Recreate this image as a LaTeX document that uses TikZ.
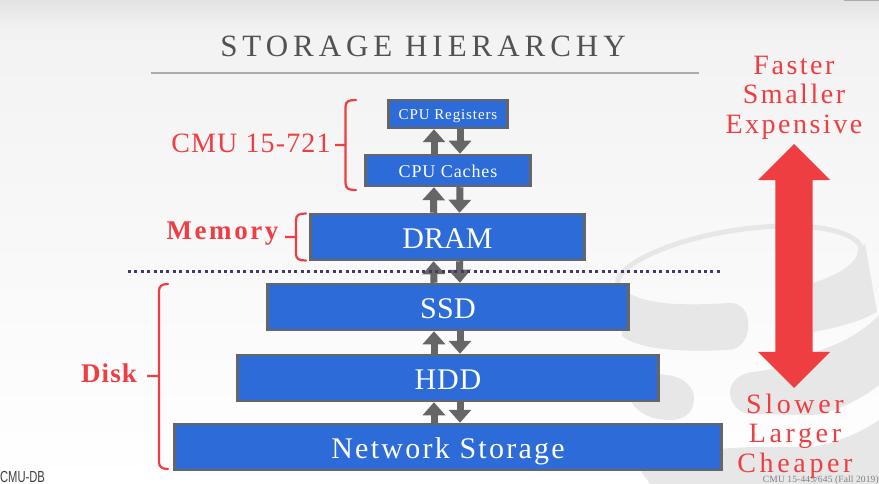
\documentclass[tikz,border=0pt]{standalone}
\usepackage{fontspec}
\setmainfont{Liberation Serif}
\newfontfamily\logofont{Liberation Sans}
\usepackage{xcolor}
\usetikzlibrary{shapes,arrows,arrows.meta,positioning}

\definecolor{boxblue}{HTML}{2C6BD8}
\definecolor{boxgray}{HTML}{666666}
\definecolor{alertred}{HTML}{EF3E42}
\definecolor{marklight}{HTML}{E7E7E7}
\definecolor{dotblue}{HTML}{3C3C66}

\begin{document}
\begin{tikzpicture}[
    x=1pt, y=-1pt,
    block/.style={rectangle, draw=boxgray, fill=boxblue, line width=2.5pt, inner sep=0pt, align=center, text=white, text depth=0pt},
    bigblock/.style={block, minimum height=46pt, text height=22pt},
    arrow/.style={-{Triangle[width=22pt,length=13pt]}, line width=7pt, boxgray},
    bracket/.style={alertred, line width=2.2pt, line cap=round},
    label/.style={text=alertred, inner sep=0pt, align=center}
]
\useasboundingbox (0,0) rectangle (879,484);
\clip (0,0) rectangle (879,484);

% Background
\shade[top color=black!11, bottom color=black!5] (0,0) rectangle (879,30);
\shade[top color=black!5, bottom color=white] (0,30) rectangle (879,484);

% Watermark
\draw[marklight, line width=5pt] (618,285) .. controls (612,262) and (700,226) .. (790,226) .. controls (830,226) and (864,236) .. (861,252);
\fill[marklight] (622,288) .. controls (640,305) and (680,306) .. (730,303) .. controls (755,302) and (755,350) .. (727,350) .. controls (680,352) and (640,350) .. (622,336) -- cycle;
\fill[marklight] (813,283) .. controls (835,276) and (858,264) .. (858,250) -- (865,244) -- (877,312) .. controls (860,322) and (835,328) .. (813,332) -- cycle;
\fill[marklight] (640,372) -- (667,375) .. controls (685,377) and (694,388) .. (694,398) .. controls (694,412) and (685,420) .. (670,420) .. controls (650,420) and (638,412) .. (632,403) -- cycle;
\fill[marklight] (753,372) .. controls (775,370) and (790,362) .. (812,353) .. controls (835,346) and (860,335) .. (879,315) -- (879,385) .. controls (860,400) and (835,412) .. (813,415) -- (750,414) .. controls (738,413) and (730,403) .. (730,392) .. controls (730,382) and (740,373) .. (753,372) -- cycle;
\fill[marklight] (640,470) -- (700,450) -- (750,447) -- (813,447) .. controls (840,442) and (865,430) .. (879,420) -- (879,484) -- (650,484) -- cycle;

% Title
\node[inner sep=0pt, text=black!68, font=\fontsize{31}{31}\selectfont\addfontfeature{LetterSpace=16}] (title) at (423,46) {STORAGE HIERARCHY};
\coordinate (ruleleft) at (151,73);
\coordinate (ruleright) at (699,73);
\draw[black!33, line width=1.5pt] (ruleleft) -- (ruleright);
\coordinate (cornerleft) at (844,0);
\coordinate (cornerright) at (879,0);
\draw[black!33, line width=2pt] (cornerleft) -- (cornerright);

% Levels
\node[block, minimum width=119pt, minimum height=28pt, text height=12pt, font=\fontsize{15}{16}\selectfont\addfontfeature{LetterSpace=6}] (regs) at (448,114) {CPU Registers};
\node[block, minimum width=165pt, minimum height=31pt, text height=15pt, font=\fontsize{18}{19}\selectfont\addfontfeature{LetterSpace=5}] (caches) at (448,170.5) {CPU Caches};
\node[bigblock, minimum width=274pt, font=\fontsize{30}{32}\selectfont] (dram) at (447.5,237) {DRAM};
\node[bigblock, minimum width=361pt, font=\fontsize{30}{32}\selectfont\addfontfeature{LetterSpace=1}] (ssd) at (448,307) {SSD};
\node[bigblock, minimum width=421pt, font=\fontsize{30}{32}\selectfont\addfontfeature{LetterSpace=3}] (hdd) at (448,378) {HDD};
\node[bigblock, minimum width=547pt, font=\fontsize{30}{32}\selectfont\addfontfeature{LetterSpace=7.5}] (netstore) at (448,447) {Network Storage};

% Arrows
\draw[arrow] ([xshift=-14pt]caches.north) -- ([xshift=-14pt]regs.south);
\draw[arrow] ([xshift=12pt]regs.south) -- ([xshift=12pt]caches.north);
\draw[arrow] ([xshift=-14pt]dram.north) -- ([xshift=-14pt]caches.south);
\draw[arrow] ([xshift=12pt]caches.south) -- ([xshift=12pt]dram.north);
\draw[arrow] ([xshift=-14pt]ssd.north) -- ([xshift=-14pt]dram.south);
\draw[arrow] ([xshift=12pt]dram.south) -- ([xshift=12pt]ssd.north);
\draw[arrow] ([xshift=-14pt]hdd.north) -- ([xshift=-14pt]ssd.south);
\draw[arrow] ([xshift=12pt]ssd.south) -- ([xshift=12pt]hdd.north);
\draw[arrow] ([xshift=-14pt]netstore.north) -- ([xshift=-14pt]hdd.south);
\draw[arrow] ([xshift=12pt]hdd.south) -- ([xshift=12pt]netstore.north);

% Memory / disk boundary
\coordinate (dotleft) at (128,271);
\coordinate (dotright) at (722,271);
\draw[dotblue, line width=3pt, dash pattern=on 3pt off 3.4pt] (dotleft) -- (dotright);

% Brackets
\draw[bracket] (356,100) .. controls (349,100) and (345.5,101) .. (345.5,107) -- (345.5,145) -- (335,145) -- (345.5,145) -- (345.5,183) .. controls (345.5,189) and (349,190) .. (356,190);
\draw[bracket] (306,213.5) .. controls (299,213.5) and (296,215) .. (296,220) -- (296,237) -- (285,237) -- (296,237) -- (296,254) .. controls (296,259) and (299,260.5) .. (306,260.5);
\draw[bracket] (168,284) .. controls (162,284) and (159,286) .. (159,291) -- (159,376) -- (147,376) -- (159,376) -- (159,462) .. controls (159,467) and (162,469) .. (168,469);

% Labels
\node[label, font=\fontsize{28}{30}\selectfont\addfontfeature{LetterSpace=4}] (cmulabel) at (251,143) {CMU 15-721};
\node[label, font=\fontsize{27}{30}\selectfont\bfseries\addfontfeature{LetterSpace=9.5}] (memlabel) at (222.5,234) {Memory};
\node[label, font=\fontsize{27}{30}\selectfont\bfseries\addfontfeature{LetterSpace=4}] (disklabel) at (109,373) {Disk};
\node[label, font=\fontsize{28}{29.5}\selectfont\addfontfeature{LetterSpace=9}] (fastlabel) at (794,97.5) {Faster\\Smaller\\Expensive};
\node[label, font=\fontsize{28}{29.5}\selectfont\addfontfeature{LetterSpace=13}] (slowlabel) at (795,436) {Slower\\Larger\\Cheaper};

% Big arrow
\node[double arrow, fill=alertred, rotate=90, inner xsep=0pt, inner ysep=18.5pt, minimum height=244pt,
      double arrow head extend=17.5pt] (bigarrow) at (794,266) {};

% Footer
\node[anchor=west, inner sep=0pt, xscale=.7, text=black!75, font=\fontsize{16}{17}\selectfont\logofont] (logo) at (0,477) {CMU-DB};
\node[anchor=east, inner sep=0pt, text=black!50, font=\fontsize{9.5}{10}\selectfont\addfontfeature{LetterSpace=1.5}] (footer) at (879,480) {CMU 15-445/645 (Fall 2019)};

\end{tikzpicture}
\end{document}
